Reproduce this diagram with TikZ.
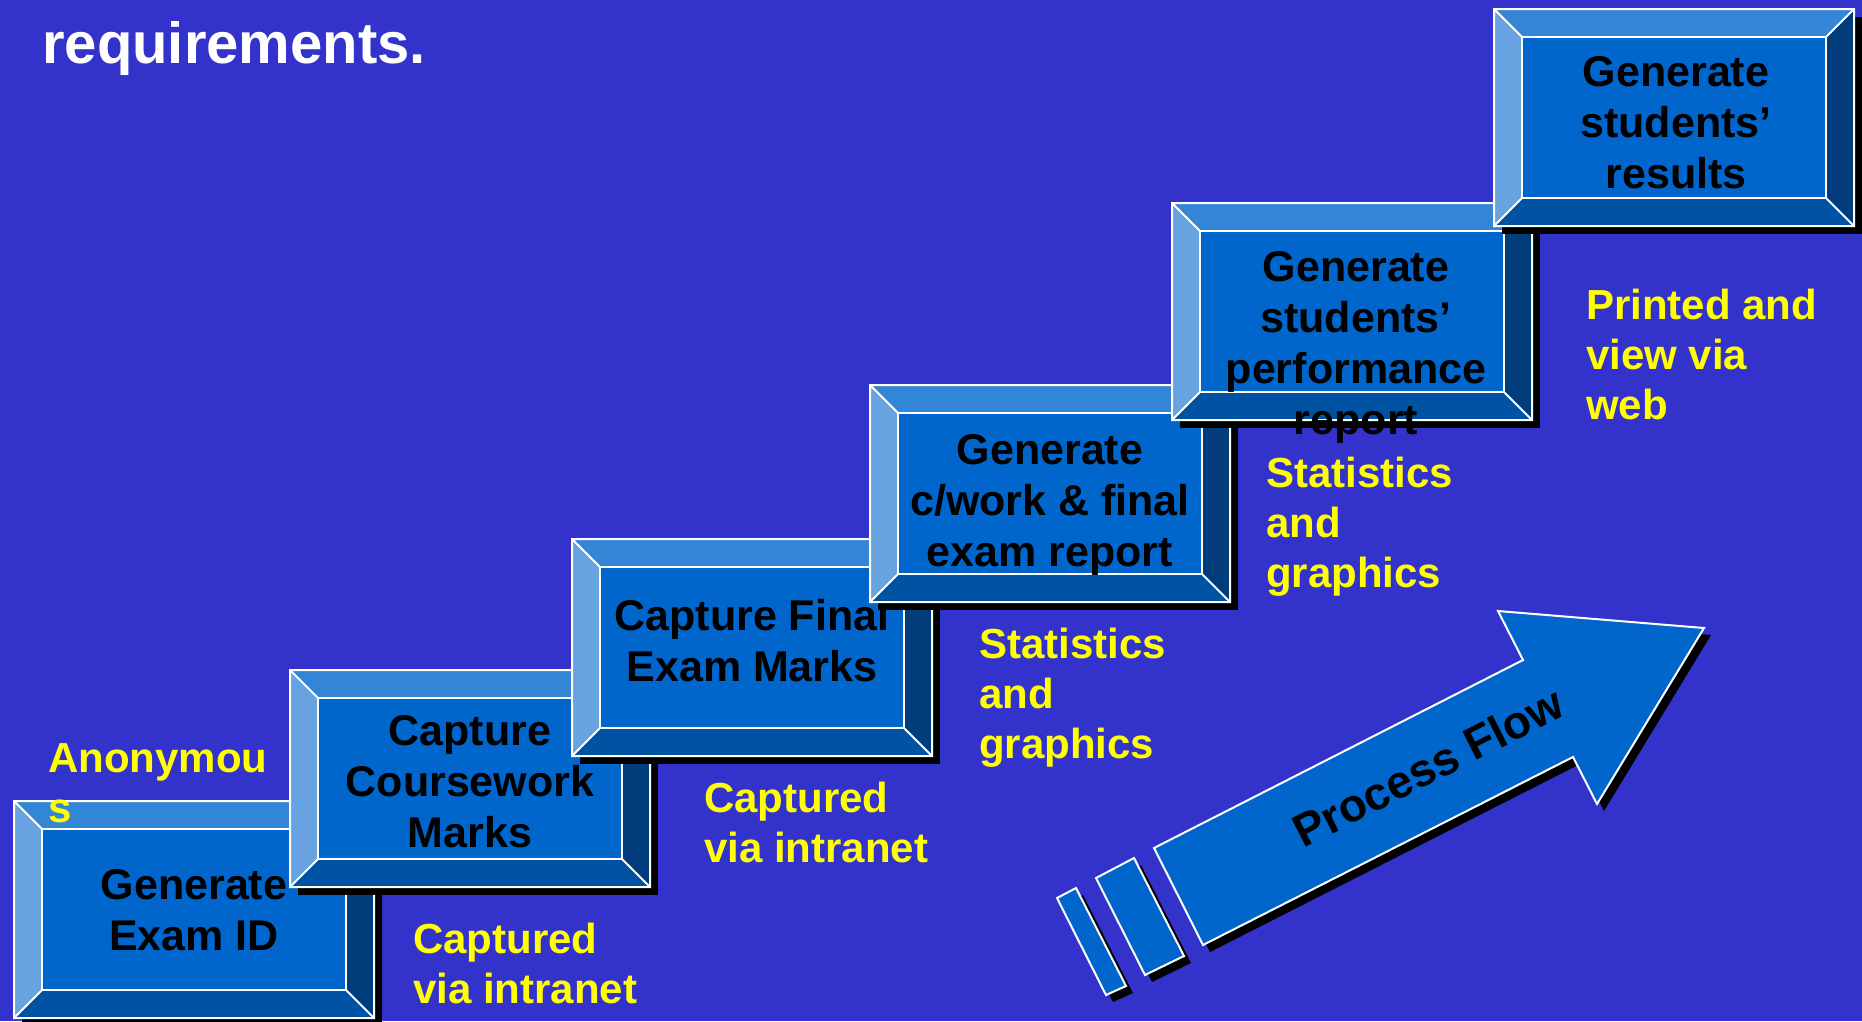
\documentclass[tikz,border=0pt]{standalone}
\usepackage{fontspec}
\setmainfont{Liberation Sans}
\usetikzlibrary{shadows}

\definecolor{bgblue}{HTML}{3333CC}
\definecolor{faceblue}{HTML}{0066CC}
\definecolor{topblue}{HTML}{3385D6}
\definecolor{leftblue}{HTML}{66A3E0}
\definecolor{rightblue}{HTML}{003D7A}
\definecolor{bottomblue}{HTML}{0052A3}
\definecolor{noteyellow}{HTML}{FFFF00}

% bevelled step: #1 = name of the face node, #2 = top left corner
\newcommand{\bevelbox}[2]{%
  \begin{scope}[shift={#2}]
    \fill[black] (8,8) rectangle (368,225);
    \fill[topblue] (0,0) -- (360,0) -- (332,28) -- (28,28) -- cycle;
    \fill[leftblue] (0,0) -- (28,28) -- (28,189) -- (0,217) -- cycle;
    \fill[rightblue] (360,0) -- (360,217) -- (332,189) -- (332,28) -- cycle;
    \fill[bottomblue] (0,217) -- (28,189) -- (332,189) -- (360,217) -- cycle;
    \node[face] (#1) at (180,108.5) {};
    \draw[bevel] (0,0) rectangle (360,217)
      (0,0) -- (28,28) (360,0) -- (332,28)
      (0,217) -- (28,189) (360,217) -- (332,189);
  \end{scope}}

\begin{document}
\begin{tikzpicture}[x=1pt,y=-1pt,
    face/.style={draw=white,line width=2pt,fill=faceblue,minimum width=304pt,minimum height=161pt,inner sep=0pt},
    bevel/.style={draw=white,line width=2pt},
    boxtext/.style={font=\bfseries\fontsize{43}{51}\selectfont,align=center,text=black,inner sep=0pt},
    note/.style={font=\bfseries\fontsize{42}{50}\selectfont,align=left,text=noteyellow,anchor=base west,inner sep=0pt},
    flow/.style={fill=faceblue,draw=white,line width=2pt,line join=miter,
      drop shadow={shadow xshift=7pt,shadow yshift=-7pt,opacity=1,fill=black}}]
  \useasboundingbox (0,0) rectangle (1862,1021);
  \fill[bgblue] (0,0) rectangle (1862,1021);
  \clip (0,0) rectangle (1862,1021);

  \node[font=\bfseries\fontsize{58}{66}\selectfont,text=white,anchor=base west,inner sep=0pt] (title) at (42,63) {requirements.};

  % steps, lowest first (notes sit on their last baseline)
  \bevelbox{s1}{(14,801)}
  \node[boxtext] (t1) at (194,910) {Generate\\Exam ID};
  \node[note] (anon) at (48,822) {Anonymou\\s};
  \node[note] (cap1) at (413,1003) {Captured\\via intranet};

  \bevelbox{s2}{(290,670)}
  \node[boxtext] (t2) at (470,782) {Capture\\Coursework\\Marks};
  \node[note] (cap2) at (704,862) {Captured\\via intranet};

  \bevelbox{s3}{(572,539)}
  \node[boxtext] (t3) at (752,641) {Capture Final\\Exam Marks};
  \node[note] (stat1) at (979,758) {Statistics\\and\\graphics};

  \bevelbox{s4}{(870,385)}
  \node[boxtext] (t4) at (1050,505) {Generate\\c/work \& final\\exam report};

  \bevelbox{s5}{(1172,203)}
  \node[boxtext] (t5) at (1356,347) {Generate\\students’\\performance\\report};
  \node[note] (stat2) at (1266,587) {Statistics\\and\\graphics};

  \bevelbox{s6}{(1494,9)}
  \node[boxtext] (t6) at (1676,123) {Generate\\students’\\results};
  \node[note] (web) at (1586,419) {Printed and\\view via\\web};

  % process flow arrow
  \draw[flow] (1057,898) -- (1076,888) -- (1126,986) -- (1106,995) -- cycle;
  \draw[flow] (1096,878) -- (1134,858) -- (1184,956) -- (1145,975) -- cycle;
  \draw[flow] (1203,945) -- (1154,848) -- (1523,660) -- (1498,611) -- (1704,628)
    -- (1597,804) -- (1573,757) -- cycle;
  \node[font=\bfseries\fontsize{46}{54}\selectfont,rotate=27] (pf) at (1428,767) {Process Flow};
\end{tikzpicture}
\end{document}
